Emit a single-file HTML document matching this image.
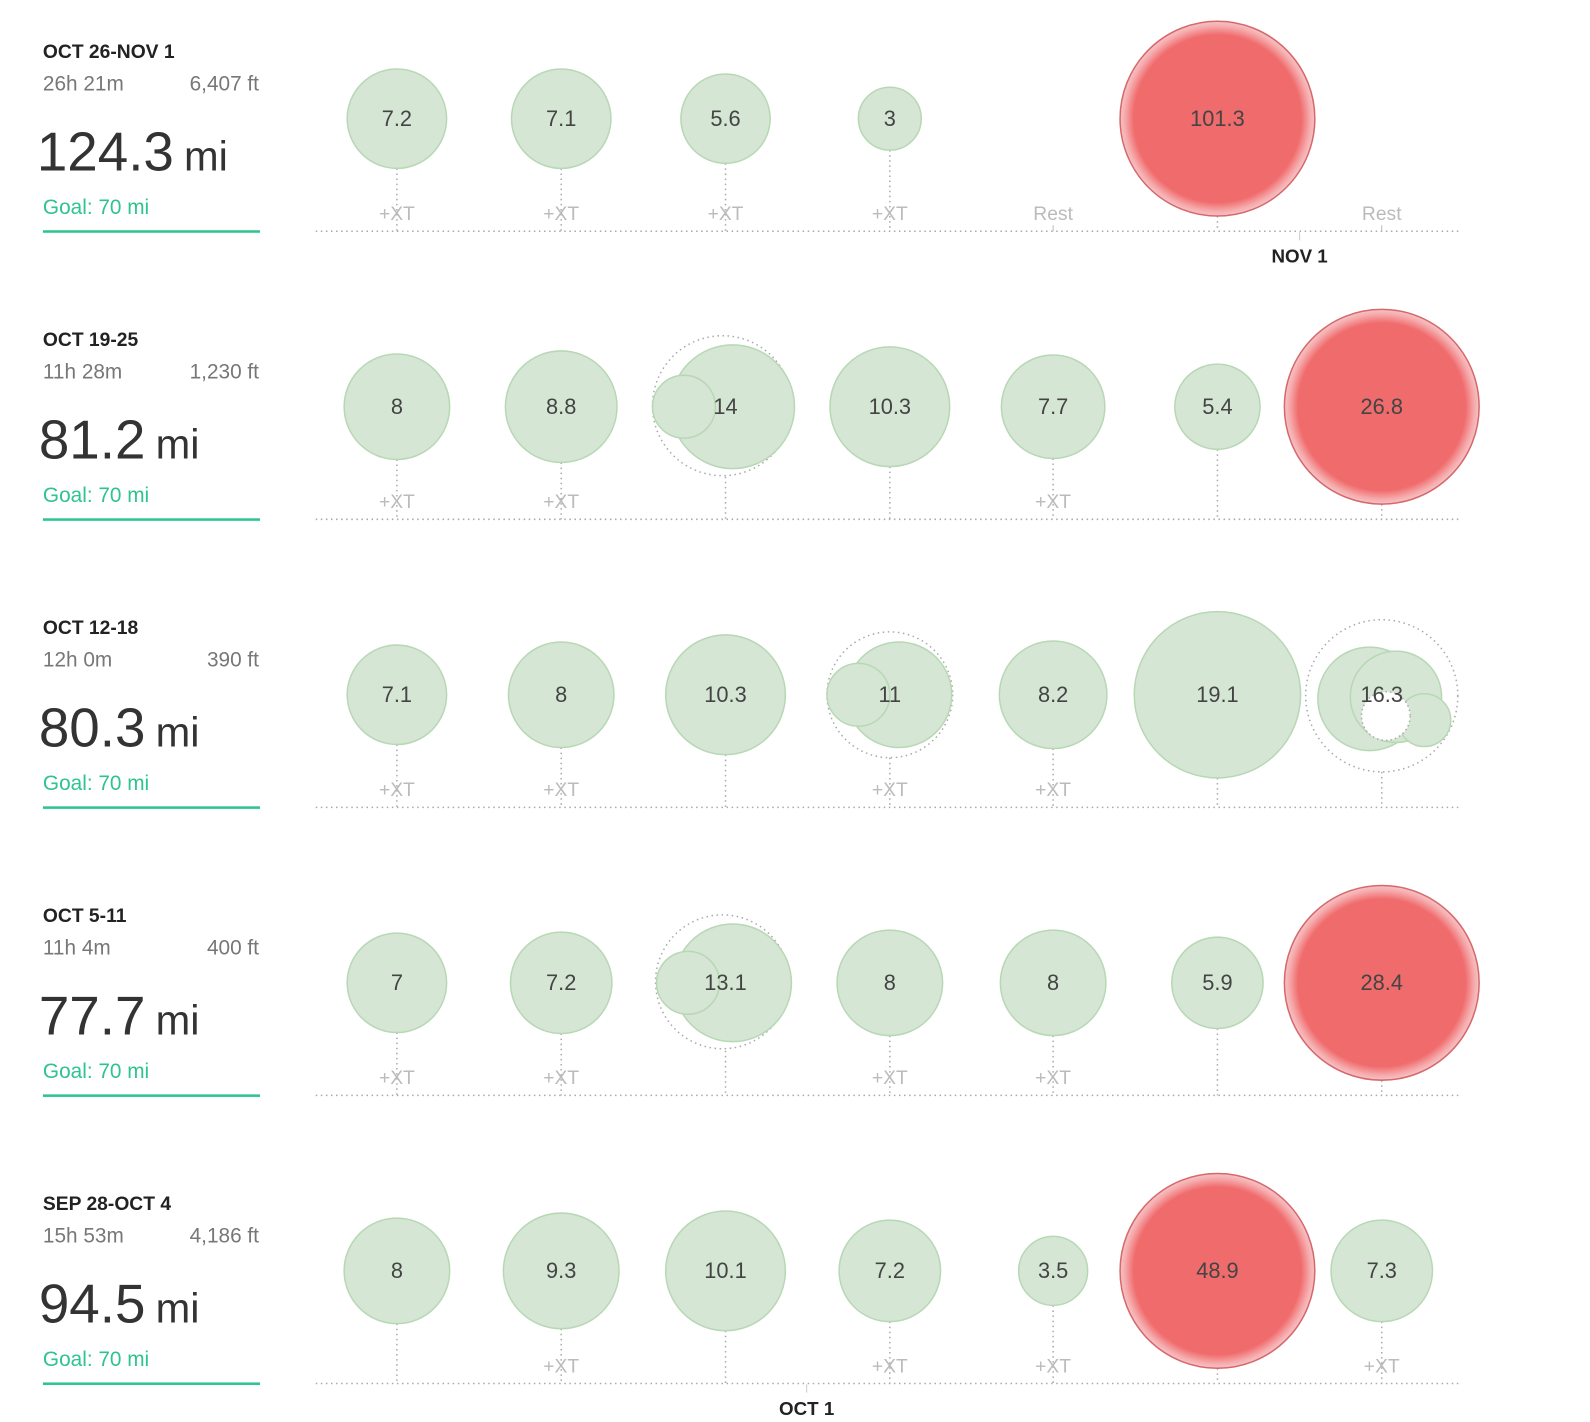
<!DOCTYPE html>
<html><head><meta charset="utf-8"><style>
html,body{margin:0;padding:0;background:#fff;}
svg{display:block;font-family:"Liberation Sans",Arial,sans-serif;}
.g{fill:#d5e6d4;stroke:#b8d8b5;stroke-width:1.5}
.r{fill:url(#rg);stroke:#d8676b;stroke-width:1.5}
.dc{fill:none;stroke:#aaa;stroke-width:1.5;stroke-dasharray:1.5 3.5}
.st{stroke:#aaa;stroke-width:1.5;stroke-dasharray:1.5 3.5}
.v{font-size:21.5px;fill:#444;text-anchor:middle}
.xt{font-size:19px;fill:#bbb;text-anchor:middle}
.t{font-size:19px;font-weight:bold;fill:#222}
.s{font-size:20.5px;fill:#777}
.big{font-size:54px;fill:#333}
.mi{font-size:41px;fill:#333}
.goal{font-size:20.5px;fill:#2ec48d}
</style></head><body>
<svg width="1590" height="1422" viewBox="0 0 1567 1402">
<defs>
<radialGradient id="rg" cx="50%" cy="50%" r="50%">
<stop offset="0" stop-color="#f06b6c"/>
<stop offset="0.86" stop-color="#f06b6c"/>
<stop offset="0.95" stop-color="#f6aaac"/>
<stop offset="1" stop-color="#f3c5c6"/>
</radialGradient>
</defs>

<!-- ROW 1 -->
<g>
<text x="42" y="57" class="t">OCT 26-NOV 1</text>
<text x="42" y="89" class="s">26h 21m</text><text x="255" y="89" class="s" text-anchor="end">6,407 ft</text>
<text x="36" y="168" class="big">124.3<tspan class="mi" dx="10">mi</tspan></text>
<text x="42" y="211" class="goal">Goal: 70 mi</text>
<rect x="42" y="227" width="214" height="2.5" fill="#2ec48d"/>
<line x1="311" y1="228" x2="1441" y2="228" class="st"/>
<line x1="391" y1="166" x2="391" y2="228" class="st"/>
<line x1="553" y1="166" x2="553" y2="228" class="st"/>
<line x1="715" y1="161" x2="715" y2="228" class="st"/>
<line x1="877" y1="148" x2="877" y2="228" class="st"/>
<line x1="1200" y1="213" x2="1200" y2="228" class="st"/>
<line x1="1038" y1="222" x2="1038" y2="228" stroke="#bbb"/>
<line x1="1362" y1="222" x2="1362" y2="228" stroke="#bbb"/>
<line x1="1281" y1="229" x2="1281" y2="237" stroke="#ccc"/>
<circle cx="391" cy="117" r="49" class="g"/><text x="391" y="124" class="v">7.2</text>
<circle cx="553" cy="117" r="49" class="g"/><text x="553" y="124" class="v">7.1</text>
<circle cx="715" cy="117" r="44" class="g"/><text x="715" y="124" class="v">5.6</text>
<circle cx="877" cy="117" r="31" class="g"/><text x="877" y="124" class="v">3</text>
<circle cx="1200" cy="117" r="96" class="r"/><text x="1200" y="124" class="v">101.3</text>
<text x="391" y="217" class="xt">+XT</text><text x="553" y="217" class="xt">+XT</text>
<text x="715" y="217" class="xt">+XT</text><text x="877" y="217" class="xt">+XT</text>
<text x="1038" y="217" class="xt">Rest</text><text x="1362" y="217" class="xt">Rest</text>
<text x="1281" y="259" class="t" text-anchor="middle" style="font-size:18.5px">NOV 1</text>
</g>

<!-- ROW 2 -->
<g transform="translate(0,284)">
<text x="42" y="57" class="t">OCT 19-25</text>
<text x="42" y="89" class="s">11h 28m</text><text x="255" y="89" class="s" text-anchor="end">1,230 ft</text>
<text x="38" y="168" class="big">81.2<tspan class="mi" dx="10">mi</tspan></text>
<text x="42" y="211" class="goal">Goal: 70 mi</text>
<rect x="42" y="227" width="214" height="2.5" fill="#2ec48d"/>
<line x1="311" y1="228" x2="1441" y2="228" class="st"/>
<line x1="391" y1="169" x2="391" y2="228" class="st"/>
<line x1="553" y1="172" x2="553" y2="228" class="st"/>
<line x1="715" y1="186" x2="715" y2="228" class="st"/>
<line x1="877" y1="176" x2="877" y2="228" class="st"/>
<line x1="1038" y1="168" x2="1038" y2="228" class="st"/>
<line x1="1200" y1="159" x2="1200" y2="228" class="st"/>
<line x1="1362" y1="213" x2="1362" y2="228" class="st"/>
<circle cx="391" cy="117" r="52" class="g"/><text x="391" y="124" class="v">8</text>
<circle cx="553" cy="117" r="55" class="g"/><text x="553" y="124" class="v">8.8</text>
<circle cx="712" cy="116" r="69" class="dc"/>
<circle cx="722" cy="117" r="61" class="g"/>
<circle cx="674" cy="117" r="31" class="g"/><text x="715" y="124" class="v">14</text>
<circle cx="877" cy="117" r="59" class="g"/><text x="877" y="124" class="v">10.3</text>
<circle cx="1038" cy="117" r="51" class="g"/><text x="1038" y="124" class="v">7.7</text>
<circle cx="1200" cy="117" r="42" class="g"/><text x="1200" y="124" class="v">5.4</text>
<circle cx="1362" cy="117" r="96" class="r"/><text x="1362" y="124" class="v">26.8</text>
<text x="391" y="217" class="xt">+XT</text><text x="553" y="217" class="xt">+XT</text>
<text x="1038" y="217" class="xt">+XT</text>
</g>

<!-- ROW 3 -->
<g transform="translate(0,568)">
<text x="42" y="57" class="t">OCT 12-18</text>
<text x="42" y="89" class="s">12h 0m</text><text x="255" y="89" class="s" text-anchor="end">390 ft</text>
<text x="38" y="168" class="big">80.3<tspan class="mi" dx="10">mi</tspan></text>
<text x="42" y="211" class="goal">Goal: 70 mi</text>
<rect x="42" y="227" width="214" height="2.5" fill="#2ec48d"/>
<line x1="311" y1="228" x2="1441" y2="228" class="st"/>
<line x1="391" y1="166" x2="391" y2="228" class="st"/>
<line x1="553" y1="169" x2="553" y2="228" class="st"/>
<line x1="715" y1="176" x2="715" y2="228" class="st"/>
<line x1="877" y1="179" x2="877" y2="228" class="st"/>
<line x1="1038" y1="170" x2="1038" y2="228" class="st"/>
<line x1="1200" y1="199" x2="1200" y2="228" class="st"/>
<line x1="1362" y1="193" x2="1362" y2="228" class="st"/>
<circle cx="391" cy="117" r="49" class="g"/><text x="391" y="124" class="v">7.1</text>
<circle cx="553" cy="117" r="52" class="g"/><text x="553" y="124" class="v">8</text>
<circle cx="715" cy="117" r="59" class="g"/><text x="715" y="124" class="v">10.3</text>
<circle cx="877" cy="117" r="62" class="dc"/>
<circle cx="886" cy="117" r="52" class="g"/>
<circle cx="846" cy="117" r="31" class="g"/><text x="877" y="124" class="v">11</text>
<circle cx="1038" cy="117" r="53" class="g"/><text x="1038" y="124" class="v">8.2</text>
<circle cx="1200" cy="117" r="82" class="g"/><text x="1200" y="124" class="v">19.1</text>
<circle cx="1362" cy="118" r="75" class="dc"/>
<circle cx="1350" cy="121" r="51" class="g"/>
<circle cx="1376" cy="119" r="45" class="g"/>
<circle cx="1404" cy="142" r="26" class="g"/>
<circle cx="1366" cy="138" r="24" fill="#fff" stroke="#aaa" stroke-width="1.5" stroke-dasharray="1.5 3"/>
<text x="1362" y="124" class="v">16.3</text>
<text x="391" y="217" class="xt">+XT</text><text x="553" y="217" class="xt">+XT</text>
<text x="877" y="217" class="xt">+XT</text><text x="1038" y="217" class="xt">+XT</text>
</g>

<!-- ROW 4 -->
<g transform="translate(0,852)">
<text x="42" y="57" class="t">OCT 5-11</text>
<text x="42" y="89" class="s">11h 4m</text><text x="255" y="89" class="s" text-anchor="end">400 ft</text>
<text x="38" y="168" class="big">77.7<tspan class="mi" dx="10">mi</tspan></text>
<text x="42" y="211" class="goal">Goal: 70 mi</text>
<rect x="42" y="227" width="214" height="2.5" fill="#2ec48d"/>
<line x1="311" y1="228" x2="1441" y2="228" class="st"/>
<line x1="391" y1="166" x2="391" y2="228" class="st"/>
<line x1="553" y1="167" x2="553" y2="228" class="st"/>
<line x1="715" y1="184" x2="715" y2="228" class="st"/>
<line x1="877" y1="169" x2="877" y2="228" class="st"/>
<line x1="1038" y1="169" x2="1038" y2="228" class="st"/>
<line x1="1200" y1="162" x2="1200" y2="228" class="st"/>
<line x1="1362" y1="213" x2="1362" y2="228" class="st"/>
<circle cx="391" cy="117" r="49" class="g"/><text x="391" y="124" class="v">7</text>
<circle cx="553" cy="117" r="50" class="g"/><text x="553" y="124" class="v">7.2</text>
<circle cx="712" cy="116" r="66" class="dc"/>
<circle cx="722" cy="117" r="58" class="g"/>
<circle cx="678" cy="117" r="31" class="g"/><text x="715" y="124" class="v">13.1</text>
<circle cx="877" cy="117" r="52" class="g"/><text x="877" y="124" class="v">8</text>
<circle cx="1038" cy="117" r="52" class="g"/><text x="1038" y="124" class="v">8</text>
<circle cx="1200" cy="117" r="45" class="g"/><text x="1200" y="124" class="v">5.9</text>
<circle cx="1362" cy="117" r="96" class="r"/><text x="1362" y="124" class="v">28.4</text>
<text x="391" y="217" class="xt">+XT</text><text x="553" y="217" class="xt">+XT</text>
<text x="877" y="217" class="xt">+XT</text><text x="1038" y="217" class="xt">+XT</text>
</g>

<!-- ROW 5 -->
<g transform="translate(0,1136)">
<text x="42" y="57" class="t">SEP 28-OCT 4</text>
<text x="42" y="89" class="s">15h 53m</text><text x="255" y="89" class="s" text-anchor="end">4,186 ft</text>
<text x="38" y="168" class="big">94.5<tspan class="mi" dx="10">mi</tspan></text>
<text x="42" y="211" class="goal">Goal: 70 mi</text>
<rect x="42" y="227" width="214" height="2.5" fill="#2ec48d"/>
<line x1="311" y1="228" x2="1441" y2="228" class="st"/>
<line x1="391" y1="169" x2="391" y2="228" class="st"/>
<line x1="553" y1="174" x2="553" y2="228" class="st"/>
<line x1="715" y1="176" x2="715" y2="228" class="st"/>
<line x1="877" y1="167" x2="877" y2="228" class="st"/>
<line x1="1038" y1="151" x2="1038" y2="228" class="st"/>
<line x1="1200" y1="213" x2="1200" y2="228" class="st"/>
<line x1="1362" y1="167" x2="1362" y2="228" class="st"/>
<line x1="795" y1="229" x2="795" y2="237" stroke="#ccc"/>
<circle cx="391" cy="117" r="52" class="g"/><text x="391" y="124" class="v">8</text>
<circle cx="553" cy="117" r="57" class="g"/><text x="553" y="124" class="v">9.3</text>
<circle cx="715" cy="117" r="59" class="g"/><text x="715" y="124" class="v">10.1</text>
<circle cx="877" cy="117" r="50" class="g"/><text x="877" y="124" class="v">7.2</text>
<circle cx="1038" cy="117" r="34" class="g"/><text x="1038" y="124" class="v">3.5</text>
<circle cx="1200" cy="117" r="96" class="r"/><text x="1200" y="124" class="v">48.9</text>
<circle cx="1362" cy="117" r="50" class="g"/><text x="1362" y="124" class="v">7.3</text>
<text x="553" y="217" class="xt">+XT</text><text x="877" y="217" class="xt">+XT</text>
<text x="1038" y="217" class="xt">+XT</text><text x="1362" y="217" class="xt">+XT</text>
<text x="795" y="259" class="t" text-anchor="middle" style="font-size:18.5px">OCT 1</text>
</g>
</svg>
</body></html>
